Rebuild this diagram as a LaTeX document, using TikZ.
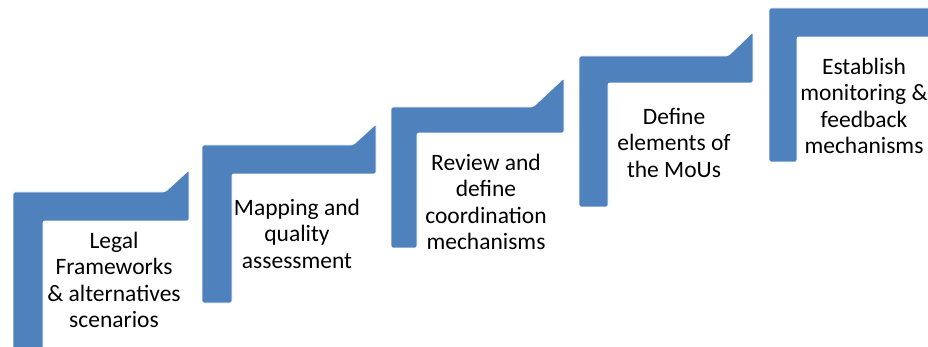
\documentclass[tikz,border=0pt]{standalone}
\usepackage{fontspec}
\setmainfont{Carlito}
\definecolor{stepblue}{RGB}{79,129,189}
\tikzset{
stair/.style={fill=stepblue, draw=white, line width=0.8pt, rounded corners=2pt}, % the L-shaped steps
steptext/.style={align=center, inner sep=0pt, anchor=north, font=\fontsize{23.5}{26.3}\selectfont}, % text under each step
}

\begin{document}
\begin{tikzpicture}[x=1pt, y=-1pt]
                \useasboundingbox (0,0) rectangle (928,347);
                \clip (0,0) rectangle (928,347);
                % steps, left to right
                \path[stair] (13,360) -- (13,192) -- (165,192) -- (189,170) -- (189,221) -- (43,221) -- (43,360) -- cycle;
                \path[stair] (202,303) -- (202,145) -- (353,145) -- (376,124) -- (376,174) -- (232,174) -- (232,303) -- cycle;
                \path[stair] (391,248) -- (391,107) -- (533,107) -- (564,78) -- (564,133) -- (417,133) -- (417,248) -- cycle;
                \path[stair] (579,207) -- (579,56) -- (728,56) -- (753,32) -- (753,83) -- (608,83) -- (608,207) -- cycle;
                \path[stair] (769,162) -- (769,8) -- (950,8) -- (950,37) -- (797,37) -- (797,162) -- cycle;
                % texts
                \node[steptext] (s1) at (114,232) {Legal\\Frameworks\\\& alternatives\\scenarios};
                \node[steptext] (s2) at (297,199) {Mapping and\\quality\\assessment};
                \node[steptext] (s3) at (486,154) {Review and\\define\\coordination\\mechanisms};
                \node[steptext] (s4) at (674,108) {Define\\elements of\\the MoUs};
                \node[steptext] (s5) at (864,58) {Establish\\monitoring \&\\feedback\\mechanisms};
\end{tikzpicture}
\end{document}
